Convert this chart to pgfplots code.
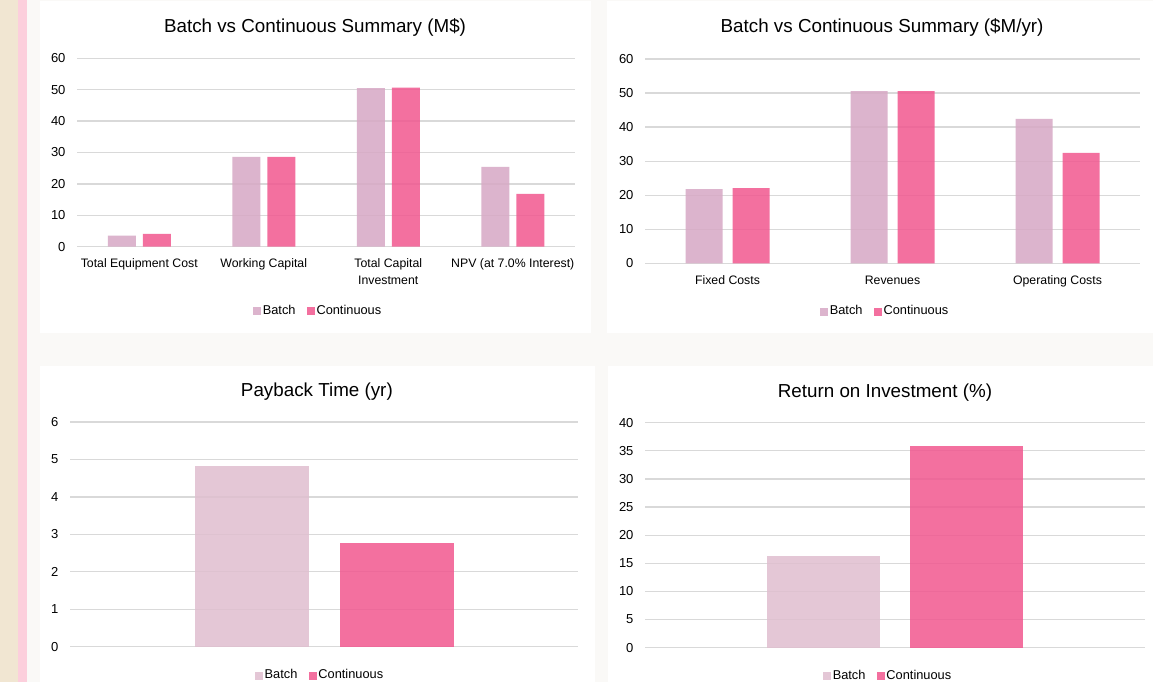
\documentclass[border=0pt]{standalone}
\usepackage{pgfplots}
\pgfplotsset{compat=1.18}
\usepackage{fontspec}
\setmainfont{Liberation Sans}
\definecolor{bgc}{HTML}{FAF9F7}
\definecolor{beige}{HTML}{F1E6D2}
\definecolor{stripe}{HTML}{FCCFDC}
\definecolor{gridc}{HTML}{D9D9D9}
\definecolor{batchA}{HTML}{D7A8C5}
\definecolor{batchB}{HTML}{E0BECF}
\definecolor{contc}{HTML}{F1578F}
\pgfplotsset{
  sq/.style={legend image code/.code={\fill[##1] (0pt,-5pt) rectangle (8pt,3pt);}},
  panel/.style={
    scale only axis, anchor=south west, clip=false,
    axis line style={draw=none}, major tick length=0pt,
    ymajorgrids, grid style={color=gridc, line width=1.3pt},
    ymin=0, ybar,
    /pgf/number format/assume math mode=true,
    ticklabel style={font=\fontsize{13}{15}\selectfont},
    yticklabel style={anchor=east, xshift=-8pt},
    xticklabel style={font=\fontsize{12.3}{17}\selectfont, align=center, yshift=-8pt},
    title style={font=\fontsize{18.8}{21}\selectfont, anchor=center},
    legend style={draw=none, fill=none, anchor=center, legend columns=-1,
      font=\fontsize{12.8}{15}\selectfont, nodes={inner xsep=1.5pt},
      /tikz/every even column/.append style={column sep=10pt}},
  },
}
\begin{document}
\begin{tikzpicture}[x=1pt,y=1pt]
\useasboundingbox (0,0) rectangle (1153,-682);
\fill[bgc] (0,0) rectangle (1153,-682);
\fill[beige] (0,0) rectangle (18,-682);
\fill[stripe] (18,0) rectangle (27,-682);
\fill[white] (40,-1) rectangle (591,-333);
\fill[white] (607,-1) rectangle (1153,-333);
\fill[white] (40,-366) rectangle (595,-682);
\fill[white] (608,-366) rectangle (1153,-682);

% Top-left
\begin{axis}[panel, at={(77pt,-246.7pt)}, width=498pt, height=188.4pt,
  ymax=60, ytick={0,10,...,60},
  xmin=-0.5, xmax=3.5, xtick={0,1,2,3},
  xticklabels={Total Equipment Cost, Working Capital, {Total Capital\\Investment}, NPV (at 7.0\% Interest)},
  bar width=28pt, ybar=7pt,
  title={Batch vs Continuous Summary (M\$)},
  title style={at={(0.478,1.133)}},
  legend style={at={(0.484,-0.337)}}]
\addplot[fill=batchA, draw=none, fill opacity=0.85, sq] coordinates {(0,3.5) (1,28.6) (2,50.5) (3,25.4)};
\addplot[fill=contc, draw=none, fill opacity=0.85, sq] coordinates {(0,4.1) (1,28.6) (2,50.7) (3,16.8)};
\legend{Batch, Continuous}
\end{axis}

% Top-right
\begin{axis}[panel, at={(645pt,-263.3pt)}, width=495pt, height=204.3pt,
  ymax=60, ytick={0,10,...,60},
  xmin=-0.5, xmax=2.5, xtick={0,1,2},
  xticklabels={Fixed Costs, Revenues, Operating Costs},
  xticklabel style={yshift=-1pt},
  bar width=37pt, ybar=10pt,
  title={Batch vs Continuous Summary (\$M/yr)},
  title style={at={(0.479,1.123)}},
  legend style={at={(0.485,-0.232)}}]
\addplot[fill=batchA, draw=none, fill opacity=0.85, sq] coordinates {(0,21.8) (1,50.6) (2,42.4)};
\addplot[fill=contc, draw=none, fill opacity=0.85, sq] coordinates {(0,22.1) (1,50.6) (2,32.4)};
\legend{Batch, Continuous}
\end{axis}

% Bottom-left
\begin{axis}[panel, at={(70pt,-646.7pt)}, width=508pt, height=224.7pt,
  ymax=6, ytick={0,1,...,6},
  xmin=-0.5, xmax=0.5, xtick=\empty,
  bar width=114pt, ybar=31pt,
  title={Payback Time (yr)},
  title style={at={(0.486,1.108)}},
  legend style={at={(0.492,-0.125)}}]
\addplot[fill=batchB, draw=none, fill opacity=0.85, sq] coordinates {(0,4.83)};
\addplot[fill=contc, draw=none, fill opacity=0.85, sq] coordinates {(0,2.76)};
\legend{Batch, Continuous}
\end{axis}

% Bottom-right
\begin{axis}[panel, at={(645pt,-647.7pt)}, width=500pt, height=225pt,
  ymax=40, ytick={0,5,...,40},
  xmin=-0.5, xmax=0.5, xtick=\empty,
  bar width=113pt, ybar=30pt,
  title={Return on Investment (\%)},
  title style={at={(0.48,1.105)}},
  legend style={at={(0.486,-0.122)}}]
\addplot[fill=batchB, draw=none, fill opacity=0.85, sq] coordinates {(0,16.3)};
\addplot[fill=contc, draw=none, fill opacity=0.85, sq] coordinates {(0,35.9)};
\legend{Batch, Continuous}
\end{axis}
\end{tikzpicture}
\end{document}
